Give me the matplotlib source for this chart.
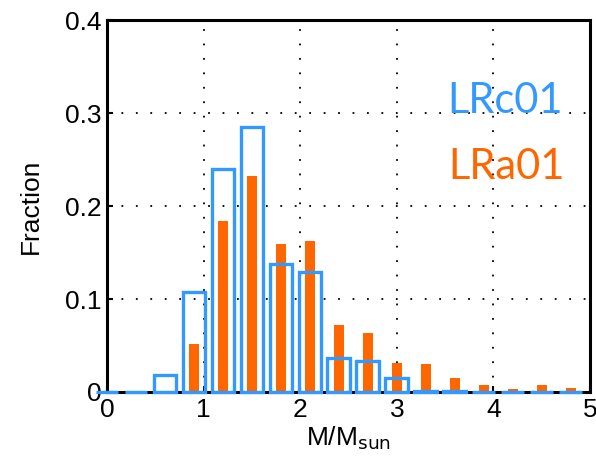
import numpy as np
import matplotlib
matplotlib.use("Agg")
import matplotlib.pyplot as plt

# bin centres (M/Msun) and fractions
mass_bins = [0.0, 0.3, 0.6, 0.9, 1.2, 1.5, 1.8, 2.1, 2.4, 2.7, 3.0,
             3.3, 3.6, 3.9, 4.2, 4.5, 4.8]
frac_lrc01 = [0.0, 0.0, 0.018, 0.108, 0.240, 0.285, 0.138, 0.129, 0.037,
              0.033, 0.015, 0.001, 0.001, 0.0, 0.0, 0.0, 0.0]
frac_lra01 = [0.0, 0.0, 0.0, 0.052, 0.184, 0.232, 0.159, 0.162, 0.072,
              0.063, 0.031, 0.030, 0.015, 0.007, 0.003, 0.0075, 0.004]

blue = "#3399ff"
orange = "#ff6600"

plt.rcParams['font.family'] = ['Liberation Sans', 'DejaVu Sans']

fig = plt.figure(figsize=(5.96, 4.72), dpi=100)
ax = fig.add_axes([0.1795, 0.1695, 0.8105, 0.788])

ax.bar(mass_bins, frac_lra01, width=0.1, color=orange, zorder=2)
ax.bar(mass_bins, frac_lrc01, width=0.235, facecolor="none",
       edgecolor=blue, linewidth=2.4, zorder=5, clip_on=False)

ax.set_xlim(0, 5)
ax.set_ylim(0, 0.4)
ax.set_xticks([0, 1, 2, 3, 4, 5])
ax.set_yticks([0, 0.1, 0.2, 0.3, 0.4])
ax.set_yticklabels(["0", "0.1", "0.2", "0.3", "0.4"])
ax.grid(True, color="black", linestyle=(0, (1, 7)), linewidth=1.3, zorder=1)
ax.set_axisbelow(True)

for s in ax.spines.values():
    s.set_linewidth(2.2)
    s.set_zorder(4)
ax.tick_params(direction="in", length=4, width=1.5, labelsize=19, pad=4,
               top=False, right=False)

ax.set_xlabel(r"M/M$_{\mathrm{sun}}$", fontsize=19, labelpad=2)
ax.set_ylabel("Fraction", fontsize=19, labelpad=16)

ax.text(0.944, 0.782, "LRc01", transform=ax.transAxes, color=blue,
        fontsize=30, family="Lato", ha="right", va="center")
ax.text(0.948, 0.605, "LRa01", transform=ax.transAxes, color=orange,
        fontsize=30, family="Lato", ha="right", va="center")

plt.savefig("out.png", dpi=100)
